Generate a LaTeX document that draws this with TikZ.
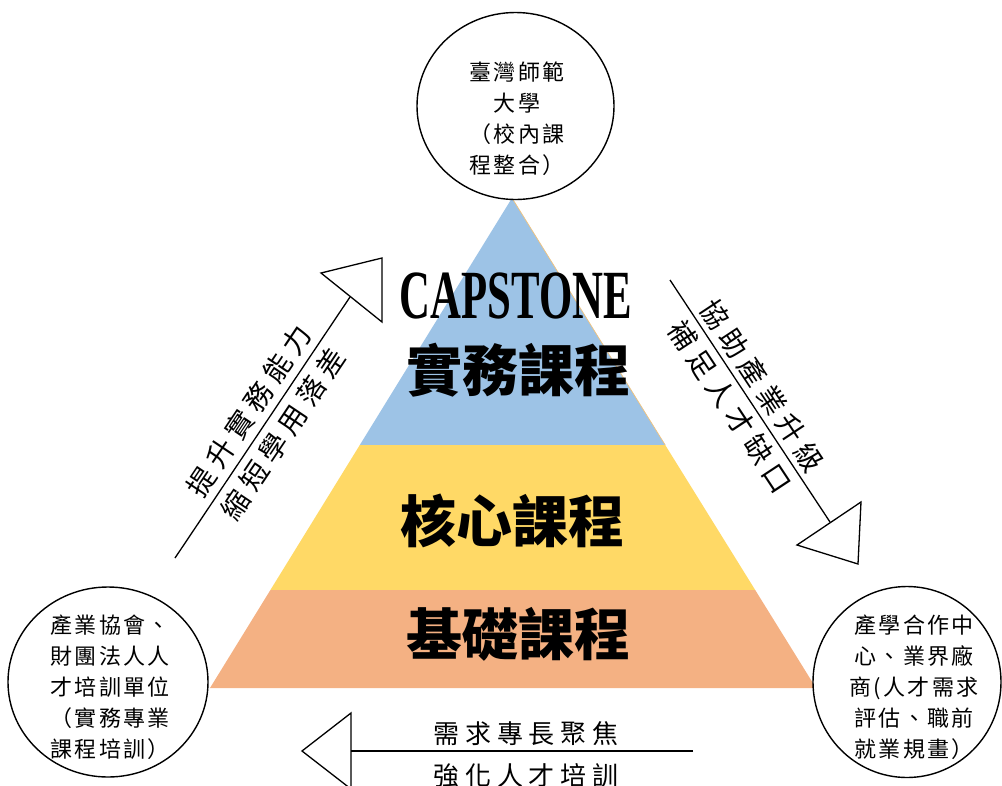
\documentclass[tikz,border=0pt]{standalone}
\usepackage{fontspec}
\usepackage{graphicx}
\setmainfont{Liberation Serif}
\newfontfamily\cjk{Noto Sans CJK TC}
\usetikzlibrary{shapes.geometric}
\definecolor{tblue}{HTML}{9DC3E6}
\definecolor{tyellow}{HTML}{FFD966}
\definecolor{torange}{HTML}{F4B183}
\definecolor{tedge}{HTML}{F2C27A}
\begin{document}
\begin{tikzpicture}[x=1pt,y=-1pt,
  ring/.style={draw=black, line width=1.4pt, ellipse, inner sep=0pt, fill=white},
  ringtext/.style={align=center, inner sep=0pt,
    font=\cjk\fontsize{22pt}{31pt}\selectfont\addfontfeature{LetterSpace=10}},
  tiertext/.style={inner sep=0pt, font=\cjk\bfseries\fontsize{56pt}{56pt}\selectfont},
  diagtext/.style={inner sep=0pt, font=\cjk\fontsize{28pt}{28pt}\selectfont\addfontfeature{LetterSpace=22}},
  flowtext/.style={inner sep=0pt, font=\cjk\fontsize{26pt}{26pt}\selectfont\addfontfeature{LetterSpace=22}},
  arrline/.style={draw=black, line width=1.3pt},
  arrhead/.style={draw=black, line width=1.3pt, fill=white, line join=miter}
]
\useasboundingbox (0,0) rectangle (1002,785);

% pyramid
\coordinate (apex) at (512,198);
\coordinate (bl) at (359.8,445);
\coordinate (br) at (665.2,445);
\coordinate (yl) at (270.4,590);
\coordinate (yr) at (755.2,590);
\coordinate (ol) at (210,688);
\coordinate (or) at (816,688);
\fill[tblue] (apex) -- (br) -- (bl) -- cycle;
\fill[tyellow] (bl) -- (br) -- (yr) -- (yl) -- cycle;
\fill[torange] (yl) -- (yr) -- (or) -- (ol) -- cycle;
\draw[tedge, line width=0.7pt] (apex) -- (br);

\node[inner sep=0pt, font=\bfseries\fontsize{69pt}{69pt}\selectfont] (cap) at (516,296) {\scalebox{0.62}[1]{CAPSTONE}};
\node[tiertext] (t1) at (518,370) {實務課程};
\node[tiertext] (t2) at (512,521) {核心課程};
\node[tiertext] (t3) at (518,634) {基礎課程};

% circles
\node[ring, minimum width=197pt, minimum height=187pt] (ntnu) at (515.5,106) {};
\node[ringtext] (ntnutxt) at (517,119) {臺灣師範\\大學\\（校內課\\程整合）};

\node[ring, minimum width=200pt, minimum height=190pt] (assoc) at (108,682) {};
\node[ringtext] (assoctxt) at (110,687.5) {產業協會、\\財團法人人\\才培訓單位\\（實務專業\\課程培訓）};

\node[ring, minimum width=188pt, minimum height=191pt] (center) at (907,682) {};
\node[ringtext] (centertxt) at (914,687) {產學合作中\\心、業界廠\\商(人才需求\\評估、職前\\就業規畫）};

% left arrow (up)
\coordinate (ua1) at (175,558);
\coordinate (ua2) at (350,297);
\draw[arrhead] (382,258) -- (321,273) -- (382,322) -- cycle;
\draw[arrline] (ua1) -- (ua2)
  node[pos=.52, sloped, above=7pt, diagtext] (ul1) {提升實務能力}
  node[pos=.52, sloped, below=7pt, diagtext] (ul2) {縮短學用落差};

% right arrow (down)
\coordinate (da1) at (670,280);
\coordinate (da2) at (830,522);
\draw[arrhead] (861,502) -- (797,545) -- (858,564) -- cycle;
\draw[arrline] (da1) -- (da2)
  node[pos=.48, sloped, above=5pt, diagtext] (dl1) {協助產業升級}
  node[pos=.48, sloped, below=6pt, diagtext] (dl2) {補足人才缺口};

% bottom arrow (left)
\coordinate (ba1) at (693,751);
\coordinate (ba2) at (351,751);
\draw[arrhead] (351,713) -- (302,751) -- (351,789) -- cycle;
\draw[arrline] (ba1) -- (ba2);
\node[flowtext] (bt1) at (526,734) {需求專長聚焦};
\node[flowtext] (bt2) at (526,776) {強化人才培訓};
\end{tikzpicture}
\end{document}
